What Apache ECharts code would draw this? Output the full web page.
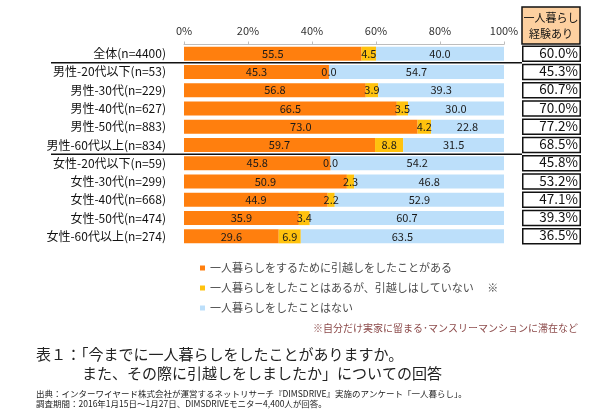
<!DOCTYPE html>
<html>
<head>
<meta charset="utf-8">
<script src="https://cdn.jsdelivr.net/npm/echarts@6/dist/echarts.min.js"></script>
<style>html,body{margin:0;padding:0;background:#fff;}#c{width:610px;height:413px;}</style>
</head>
<body>
<div id="c"></div>
<script>
const categories = ['全体(n=4400)', '男性-20代以下(n=53)', '男性-30代(n=229)', '男性-40代(n=627)', '男性-50代(n=883)', '男性-60代以上(n=834)', '女性-20代以下(n=59)', '女性-30代(n=299)', '女性-40代(n=668)', '女性-50代(n=474)', '女性-60代以上(n=274)'];
const moved = [55.5, 45.3, 56.8, 66.5, 73.0, 59.7, 45.8, 50.9, 44.9, 35.9, 29.6];
const notMoved = [4.5, 0.0, 3.9, 3.5, 4.2, 8.8, 0.0, 2.3, 2.2, 3.4, 6.9];
const never = [40.0, 54.7, 39.3, 30.0, 22.8, 31.5, 54.2, 46.8, 52.9, 60.7, 63.5];
const experience = [60.0, 45.3, 60.7, 70.0, 77.2, 68.5, 45.8, 53.2, 47.1, 39.3, 36.5];
const seriesNames = ['一人暮らしをするために引越しをしたことがある', '一人暮らしをしたことはあるが、引越しはしていない　 ※', '一人暮らしをしたことはない'];

const FONT = '"Noto Sans CJK JP", "Noto Sans", sans-serif';
const chart = echarts.init(document.getElementById('c'), null, {renderer: 'canvas'});

const barLabel = {
  show: true, position: 'inside', color: '#1a1a1a', fontSize: 11, fontFamily: FONT,
  formatter: p => p.value.toFixed(1)
};

const option = {
  animation: false,
  backgroundColor: '#fff',
  textStyle: {fontFamily: FONT},
  grid: [
    {left: 184, right: 106, top: 44.5, height: 201},
    {left: 522, right: 29, top: 44.5, height: 201}
  ],
  xAxis: [
    {
      gridIndex: 0, type: 'value', position: 'top', min: 0, max: 100, interval: 20,
      axisLine: {show: true, lineStyle: {color: '#bdbdbd', width: 1}},
      axisTick: {show: true, length: 3, lineStyle: {color: '#bdbdbd'}},
      splitLine: {show: false},
      axisLabel: {formatter: '{value}%', color: '#333', fontSize: 11, margin: 8, fontFamily: FONT}
    },
    {gridIndex: 1, type: 'value', min: 0, max: 1, show: false}
  ],
  yAxis: [
    {
      gridIndex: 0, type: 'category', data: categories, inverse: true,
      axisLine: {show: false}, axisTick: {show: false},
      axisLabel: {color: '#111', fontSize: 12, margin: 18, fontFamily: FONT}
    },
    {gridIndex: 1, type: 'category', data: categories, inverse: true, show: false}
  ],
  legend: {
    data: seriesNames, orient: 'vertical', left: 195, top: 256,
    itemWidth: 5, itemHeight: 5, itemGap: 6, icon: 'rect',
    textStyle: {color: '#4a4a4a', fontSize: 11, lineHeight: 14, fontFamily: FONT},
    selectedMode: false
  },
  series: [
    {name: seriesNames[0], type: 'bar', stack: 's', data: moved, barWidth: 14,
      itemStyle: {color: '#FF7F0E'}, label: barLabel},
    {name: seriesNames[1], type: 'bar', stack: 's', data: notMoved, barWidth: 14,
      itemStyle: {color: '#FFC20E'}, label: barLabel},
    {name: seriesNames[2], type: 'bar', stack: 's', data: never, barWidth: 14,
      itemStyle: {color: '#BCDFFA'}, label: barLabel},
    {name: 'table', type: 'bar', xAxisIndex: 1, yAxisIndex: 1,
      data: experience.map(() => 1), barWidth: 16.5, silent: true,
      itemStyle: {color: '#fff', borderColor: '#111', borderWidth: 1.5},
      label: {show: true, position: 'insideRight', distance: 3, offset: [0, -1], color: '#111', fontSize: 13.5, lineHeight: 14,
        verticalAlign: 'middle', fontFamily: FONT,
        formatter: p => experience[p.dataIndex].toFixed(1) + '%'}}
  ],
  graphic: [
    {type: 'rect', shape: {x: 522, y: 7, width: 58, height: 37},
      style: {fill: '#FDD0A0', stroke: '#111', lineWidth: 1.5}},
    {type: 'text', x: 551, y: 18, style: {text: '一人暮らし', fontSize: 11, fontFamily: FONT, fill: '#111', align: 'center', verticalAlign: 'middle'}},
    {type: 'text', x: 551, y: 34, style: {text: '経験あり', fontSize: 11, fontFamily: FONT, fill: '#111', align: 'center', verticalAlign: 'middle'}},
    {type: 'text', x: 578, y: 328, style: {text: '※自分だけ実家に留まる･マンスリーマンションに滞在など', fontSize: 10, fontFamily: FONT, fill: '#8C4A4A', align: 'right', verticalAlign: 'middle'}},
    {type: 'text', x: 36, y: 354, style: {text: '表１：「今までに一人暮らしをしたことがありますか。', fontSize: 15, fontFamily: FONT, fill: '#222', align: 'left', verticalAlign: 'middle'}},
    {type: 'text', x: 82, y: 373, style: {text: 'また、その際に引越しをしましたか」についての回答', fontSize: 15, fontFamily: FONT, fill: '#222', align: 'left', verticalAlign: 'middle'}},
    {type: 'text', x: 36, y: 394, style: {text: '出典：インターワイヤード株式会社が運営するネットリサーチ『DIMSDRIVE』実施のアンケート「一人暮らし」。', fontSize: 8.5, fontFamily: FONT, fill: '#222', align: 'left', verticalAlign: 'middle'}},
    {type: 'text', x: 36, y: 404, style: {text: '調査期間：2016年1月15日～1月27日、DIMSDRIVEモニター4,400人が回答。', fontSize: 8.5, fontFamily: FONT, fill: '#222', align: 'left', verticalAlign: 'middle'}}
  ]
};
chart.setOption(option);

// separator lines between groups, positioned via the category axis scale
function boundaryY(i) {
  const a = chart.convertToPixel({yAxisIndex: 0}, categories[i]);
  const b = chart.convertToPixel({yAxisIndex: 0}, categories[i + 1]);
  return (a + b) / 2;
}
const y1 = boundaryY(0), y2 = boundaryY(5);
const g = option.graphic.slice();
g.push({type: 'line', shape: {x1: 51, y1: y1, x2: 522, y2: y1}, style: {stroke: '#111', lineWidth: 1.5}});
g.push({type: 'line', shape: {x1: 51, y1: y2, x2: 522, y2: y2}, style: {stroke: '#111', lineWidth: 1.5}});
chart.setOption({graphic: g});
</script>
</body>
</html>
